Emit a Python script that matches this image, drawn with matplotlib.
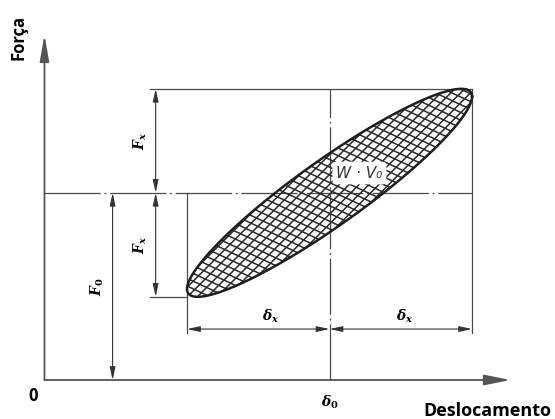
import numpy as np
import matplotlib.pyplot as plt
from matplotlib.patches import Polygon

plt.rcParams['mathtext.fontset'] = 'custom'
plt.rcParams['mathtext.it'] = 'DejaVu Serif:italic:bold'
plt.rcParams['mathtext.rm'] = 'DejaVu Serif:bold'

# parametros do ciclo de histerese
delta0 = 2.0      # deslocamento medio
delta_x = 1.0     # amplitude de deslocamento
F0 = 1.8          # forca media
F_x = 1.0         # amplitude de forca
phi = 0.39        # defasagem (rad)

fig = plt.figure(figsize=(5.55, 4.19), dpi=100)
ax = fig.add_axes([0, 0, 1, 1])
xlim = (-0.312, 3.582)
ylim = (-0.375, 3.654)
ax.set_xlim(*xlim)
ax.set_ylim(*ylim)
ax.axis('off')

line_c = '#4a4a4a'
lw = 0.9

# eixos
ax.annotate('', xy=(3.27, 0), xytext=(0, 0),
            arrowprops=dict(arrowstyle='-|>,head_length=0.8,head_width=0.16', mutation_scale=20,
                            color='#555555', lw=1.3, shrinkA=0, shrinkB=0))
ax.annotate('', xy=(0, 3.32), xytext=(0, 0),
            arrowprops=dict(arrowstyle='-|>,head_length=0.8,head_width=0.14', mutation_scale=20,
                            color='#555555', lw=1.3, shrinkA=0, shrinkB=0))

# elipse
t = np.linspace(0, 2 * np.pi, 500)
ex = delta0 + delta_x * np.cos(t)
ey = F0 + F_x * np.cos(t - phi)

# linhas de referencia
xr = delta0 + delta_x
xl = delta0 - delta_x
dashdot = (0, (45, 3, 1.5, 3))
ax.plot([0.74, xr], [F0 + F_x, F0 + F_x], color=line_c, lw=lw)
ax.plot([0.74, xl], [F0 - F_x, F0 - F_x], color=line_c, lw=lw)
ax.plot([0, xr], [F0, F0], color=line_c, lw=lw, linestyle=dashdot)
ax.plot([delta0, delta0], [0, F0 + F_x], color=line_c, lw=lw, linestyle=dashdot)
ax.plot([xl, xl], [0.45, F0], color=line_c, lw=lw)
ax.plot([xr, xr], [0.45, F0 + F_x], color=line_c, lw=lw)

# cotas
dim = dict(arrowstyle='<|-|>,head_length=0.55,head_width=0.12', mutation_scale=14,
           color='#333333', lw=0.8, shrinkA=0, shrinkB=0)
ax.annotate('', xy=(0.78, F0 + F_x), xytext=(0.78, F0), arrowprops=dim)
ax.annotate('', xy=(0.78, F0), xytext=(0.78, F0 - F_x), arrowprops=dim)
ax.annotate('', xy=(0.478, F0), xytext=(0.478, 0), arrowprops=dim)
ax.annotate('', xy=(xl, 0.49), xytext=(delta0, 0.49), arrowprops=dim)
ax.annotate('', xy=(delta0, 0.49), xytext=(xr, 0.49), arrowprops=dim)

# hachura cruzada recortada pela elipse
clip = Polygon(np.column_stack([ex, ey]), closed=True, facecolor='white', edgecolor='none')
ax.add_patch(clip)
sx = fig.bbox.width / (xlim[1] - xlim[0])
sy = fig.bbox.height / (ylim[1] - ylim[0])
px, py = ex * sx, ey * sy
centro = np.array([px.mean(), py.mean()])
for ang in (45, -25):
    th = np.radians(ang)
    d = np.array([np.cos(th), np.sin(th)])
    n = np.array([-np.sin(th), np.cos(th)])
    proj = (px - centro[0]) * n[0] + (py - centro[1]) * n[1]
    for c in np.arange(proj.min() - 7, proj.max() + 7, 7.0):
        p0 = centro + c * n - 600 * d
        p1 = centro + c * n + 600 * d
        hl, = ax.plot([p0[0] / sx, p1[0] / sx], [p0[1] / sy, p1[1] / sy], color='#2a2a2a', lw=1.1)
        hl.set_clip_path(clip)
ax.plot(ex, ey, color='#1e1e1e', lw=1.8)

# textos
ax.text(delta0 + 0.21, F0 + 0.19, 'W · V₀', fontsize=11, style='italic', family='DejaVu Sans',
        ha='center', va='center', color='#333333',
        bbox=dict(boxstyle='round,pad=0.25', facecolor='white', edgecolor='none'))
ax.text(0.67, F0 + F_x / 2, r'$F_x$', fontsize=10, rotation=90, ha='center', va='center')
ax.text(0.67, F0 - F_x / 2, r'$F_x$', fontsize=10, rotation=90, ha='center', va='center')
ax.text(0.368, F0 / 2, r'$F_0$', fontsize=10, rotation=90, ha='center', va='center')
ax.text(delta0 - 0.41 * delta_x, 0.615, r'$\delta_x$', fontsize=10, ha='center', va='center')
ax.text(delta0 + 0.53 * delta_x, 0.615, r'$\delta_x$', fontsize=10, ha='center', va='center')
ax.text(delta0, -0.21, r'$\delta_0$', fontsize=10, ha='center', va='center')
ax.text(-0.08, -0.15, '0', fontsize=12, fontweight='bold', family='Open Sans', ha='center', va='center')
ax.text(3.11, -0.30, 'Deslocamento', fontsize=13, fontweight='bold', family='Open Sans',
        ha='center', va='center')
ax.text(-0.18, 3.29, 'Força', fontsize=12, fontweight='bold', family='Open Sans', rotation=90,
        ha='center', va='center')

fig.savefig('out.png', dpi=100)
